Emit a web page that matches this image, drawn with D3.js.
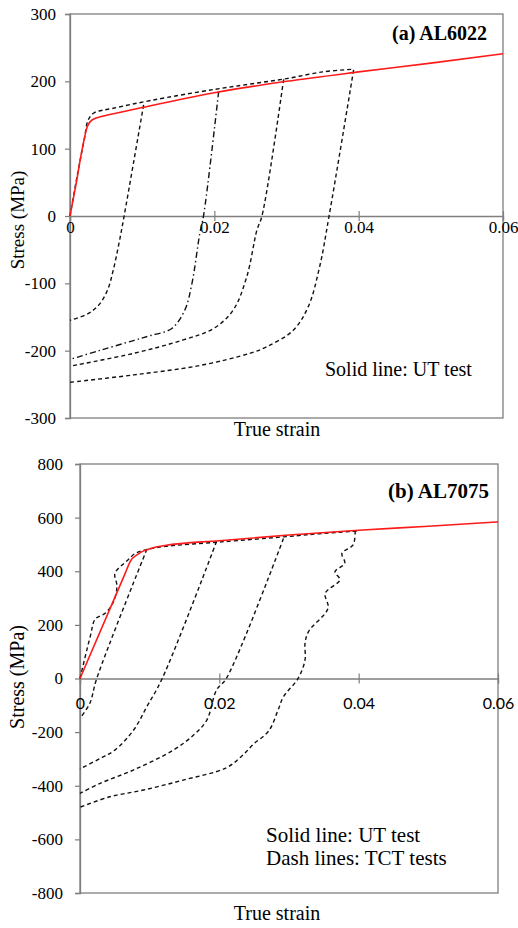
<!DOCTYPE html>
<html>
<head>
<meta charset="utf-8">
<script src="https://cdn.jsdelivr.net/npm/d3@7"></script>
<style>
body { margin: 0; background: #fff; }
svg text { font-family: "Liberation Serif", "Times New Roman", serif; fill: #000; }
</style>
</head>
<body>
<div id="chart"></div>
<script>
// ---- data (strain, stress MPa) ----
var xTicks = [0, 0.02, 0.04, 0.06];
var xTickLabels = ["0", "0.02", "0.04", "0.06"];
var yTicksA = [-300, -200, -100, 0, 100, 200, 300];
var yTicksB = [-800, -600, -400, -200, 0, 200, 400, 600, 800];

// (a) AL6022
var utA = [[0,0],[0.0008,45],[0.0017,100],[0.0024,133],[0.0031,143],[0.0045,148],[0.007,154],[0.01,161],
  [0.02,183],[0.03,200],[0.04,214],[0.05,227],[0.06,241]];
var loadA = [[0,0],[0.001,60],[0.002,115],[0.0025,142],[0.0033,153],[0.006,160],[0.0114,172],[0.02,188],
  [0.025,196],[0.03,204],[0.035,214],[0.0393,218]];
var tctA1 = [[0.0102,165],[0.0075,0],[0.0068,-40],[0.006,-80],[0.0052,-110],[0.004,-132],[0.0025,-145],[0,-155]];
var tctA2 = [[0.0206,185],[0.0185,0],[0.018,-25],[0.0169,-100],[0.0159,-140],[0.0141,-167],[0.011,-178],
  [0.0088,-185],[0.004,-200],[0,-213]];
var tctA3 = [[0.0296,203],[0.0266,0],[0.0259,-21],[0.0245,-90],[0.0226,-140],[0.0199,-167],[0.0157,-184],
  [0.0088,-204],[0,-223]];
var tctA4 = [[0.0393,217],[0.0359,0],[0.0346,-75],[0.033,-135],[0.0309,-170],[0.0273,-194],[0.0249,-204],
  [0.018,-222],[0.0088,-236],[0,-247]];

// (b) AL7075
var utB = [[0,0],[0.0065,393],[0.0072,436],[0.0084,465],[0.0103,486],[0.0122,496],[0.02,514],[0.03,535],
  [0.04,553],[0.05,568],[0.06,584]];
var loadB = [[0,0],[0.0015,160],[0.0022,222],[0.0036,243],[0.0048,285],[0.0053,345],[0.005,392],[0.006,422],
  [0.0068,440],[0.0079,466],[0.0096,481],[0.012,492],[0.02,509],[0.03,530],[0.0343,540],[0.0398,550]];
var tctB1 = [[0.0096,482],[0.0024,0],[0.0014,-93],[0,-148]];
var tctB2 = [[0.0196,511],[0.0118,0],[0.0096,-105],[0.0077,-192],[0.005,-267],[0.0029,-298],[0,-337]];
var tctB3 = [[0.0292,522],[0.021,0],[0.0196,-43],[0.0182,-155],[0.0163,-211],[0.0134,-267],[0.0077,-341],
  [0.0029,-391],[0,-428]];
var tctB4 = [[0.0395,551],[0.0392,498],[0.0376,467],[0.038,430],[0.0366,398],[0.0373,368],[0.0352,318],
  [0.0356,262],[0.0328,175],[0.0323,131],[0.0323,69],[0.0313,0],[0.0292,-68],[0.0284,-120],[0.0271,-195],
  [0.0249,-245],[0.0232,-290],[0.021,-333],[0.0148,-379],[0.0091,-416],[0.0043,-441],[0,-480]];

var svg = d3.select("#chart").append("svg")
  .attr("width", 518)
  .attr("height", 928);

var axisColor = "#7f7f7f";
var serif = '"Liberation Serif", "Times New Roman", serif';

function drawPanel(p) {
  var x = d3.scaleLinear().domain([0, 0.06]).range([p.left, p.right]);
  var y = d3.scaleLinear().domain(p.yDomain).range([p.bottom, p.top]);
  var g = svg.append("g");

  // frame
  g.append("rect")
    .attr("x", p.left).attr("y", p.top)
    .attr("width", p.right - p.left).attr("height", p.bottom - p.top)
    .attr("fill", "none").attr("stroke", axisColor).attr("stroke-width", 1.3);

  // y axis
  var yAxis = d3.axisLeft(y).tickValues(p.yTicks).tickSize(5).tickPadding(p.yPad)
    .tickFormat(function(d) { return d < 0 ? "-" + Math.abs(d) : d; });
  var ya = g.append("g").attr("transform", "translate(" + p.left + ",0)").call(yAxis)
    .attr("font-family", serif).attr("font-size", 17);
  ya.select(".domain").attr("stroke", axisColor).attr("stroke-width", 1.3);
  ya.selectAll(".tick line").attr("stroke", axisColor).attr("stroke-width", 1.2);
  ya.selectAll(".tick text").style("font-family", serif).style("font-size", "17px");

  // x axis on the zero line, ticks cross the line
  var xAxis = d3.axisBottom(x).tickValues(xTicks).tickSize(5)
    .tickFormat(function(d, i) { return xTickLabels[i]; });
  var xa = g.append("g").attr("transform", "translate(0," + y(0) + ")").call(xAxis)
    .attr("font-family", p.xFont);
  xa.select(".domain").attr("stroke", axisColor).attr("stroke-width", 1.3);
  xa.selectAll(".tick line").attr("y1", -5).attr("y2", 5).attr("stroke", axisColor).attr("stroke-width", 1.2);
  xa.selectAll(".tick text")
    .attr("y", p.xLabelDy)
    .attr("dy", 0)
    .style("font-family", p.xFont)
    .style("font-size", p.xFontSize);

  var curve = d3.line()
    .x(function(d) { return x(d[0]); })
    .y(function(d) { return y(d[1]); })
    .curve(d3.curveCatmullRom.alpha(0.5));
  var mono = d3.line()
    .x(function(d) { return x(d[0]); })
    .y(function(d) { return y(d[1]); })
    .curve(d3.curveMonotoneX);

  p.dashed.forEach(function(s) {
    g.append("path")
      .attr("d", curve(s.data))
      .attr("fill", "none")
      .attr("stroke", "#111")
      .attr("stroke-width", 1.4)
      .attr("stroke-dasharray", s.dash || "4,3");
  });

  g.append("path")
    .attr("d", mono(p.ut))
    .attr("fill", "none")
    .attr("stroke", "#ff1a1a")
    .attr("stroke-width", 1.6);

  // labels
  g.append("text")
    .attr("x", p.titleX).attr("y", p.titleY)
    .attr("text-anchor", "end")
    .style("font-weight", "bold")
    .style("font-size", p.titleSize)
    .text(p.title);

  p.notes.forEach(function(n, i) {
    g.append("text")
      .attr("x", p.noteX).attr("y", p.noteY + i * 23)
      .style("font-size", p.noteSize)
      .text(n);
  });

  g.append("text")
    .attr("x", 277).attr("y", p.xLabelY)
    .attr("text-anchor", "middle")
    .style("font-size", "20px")
    .text("True strain");

  g.append("text")
    .attr("transform", "translate(24," + p.yLabelCenter + ") rotate(-90)")
    .attr("text-anchor", "middle")
    .style("font-size", p.yLabelSize)
    .text("Stress (MPa)");
}

drawPanel({
  left: 70, right: 503, top: 14, bottom: 418,
  yDomain: [-300, 300], yTicks: yTicksA, yPad: 9,
  xLabelDy: 17, xFont: serif, xFontSize: "17px",
  ut: utA,
  dashed: [
    { data: loadA },
    { data: tctA1 },
    { data: tctA2, dash: "6,3,1.5,3" },
    { data: tctA3 },
    { data: tctA4 }
  ],
  title: "(a) AL6022", titleX: 487, titleY: 40, titleSize: "20px",
  notes: ["Solid line: UT test"], noteX: 325, noteY: 376, noteSize: "20px",
  xLabelY: 436, yLabelCenter: 220, yLabelSize: "19px"
});

drawPanel({
  left: 80, right: 498, top: 464, bottom: 893,
  yDomain: [-800, 800], yTicks: yTicksB, yPad: 12,
  xLabelDy: 30, xFont: 'Lato, "Open Sans", sans-serif', xFontSize: "16px",
  ut: utB,
  dashed: [
    { data: loadB },
    { data: tctB1 },
    { data: tctB2 },
    { data: tctB3 },
    { data: tctB4 }
  ],
  title: "(b) AL7075", titleX: 489, titleY: 498, titleSize: "21px",
  notes: ["Solid line: UT test", "Dash lines: TCT tests"], noteX: 266, noteY: 842, noteSize: "21px",
  xLabelY: 920, yLabelCenter: 677, yLabelSize: "20px"
});
</script>
</body>
</html>
